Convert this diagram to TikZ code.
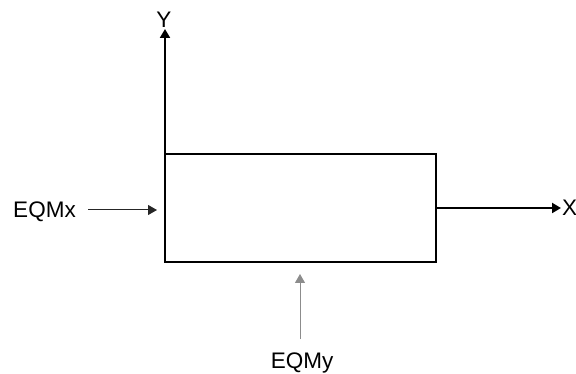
\documentclass[tikz,border=0pt]{standalone}
\usepackage{fontspec}
\setmainfont{Liberation Sans}
\usetikzlibrary{arrows.meta}
\begin{document}
\begin{tikzpicture}[x=1pt, y=-1pt,
    every node/.style={font=\fontsize{22.5}{26}\selectfont},
    thickarrow/.style={-{Triangle[length=9pt,width=10pt]}, line width=2pt},
    thinarrow/.style={-{Triangle[length=9pt,width=10pt]}, line width=1pt}]
                \useasboundingbox (0,0) rectangle (576,374);
                % Define node positions
                \node[draw, line width=2pt, minimum width=271pt,
                minimum height=108pt, inner sep=0pt, outer sep=0pt] (S) at (300.5, 208) {};
                \node[anchor=south, inner sep=1pt] (Y) at (164, 29) {Y};
                \node[anchor=west, inner sep=1pt] (X) at (561, 208) {X};
                \node[anchor=base] (U) at (44.5, 218) {EQMx};
                \node[anchor=base] (V) at (302, 368) {EQMy};
                \coordinate (Ua) at (88, 210); \coordinate (Ub) at (157, 210);
                \coordinate (Va) at (300, 339); \coordinate (Vb) at (300, 274);
                
                % Draw arrows
                \draw[thickarrow] (S.north west) -- (S.north west |- Y.south);
                \draw[thickarrow] (S.east) -- (X.west);
                \draw[thinarrow, black!85] (Ua) -- (Ub);
                \draw[thinarrow, black!45] (Va) -- (Vb);
            \end{tikzpicture}
\end{document}
